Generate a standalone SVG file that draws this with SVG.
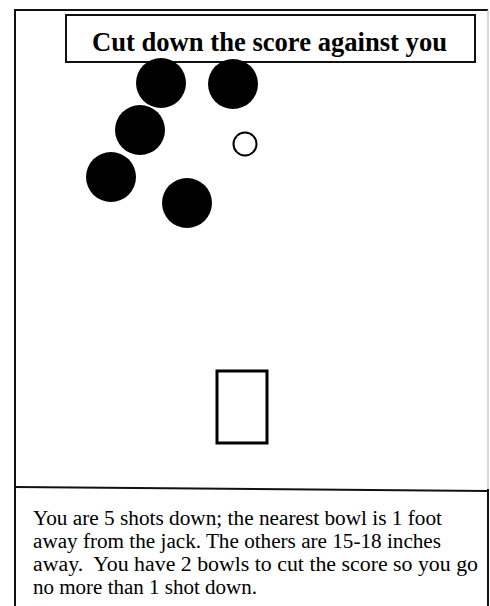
<svg xmlns="http://www.w3.org/2000/svg" width="490" height="606" viewBox="0 0 490 606">
<style>
.frame{fill:none;stroke:#111;stroke-width:2}
.bowl{fill:#000}
.title{font-family:"Liberation Serif",serif;font-weight:bold;font-size:26.5px;fill:#000}
.body{font-family:"Liberation Serif",serif;font-size:20.5px;fill:#000}
</style>
<rect width="490" height="606" fill="#fff"/>
<g id="frame">
<path class="frame" d="M15,606 V10 H488"/>
<path d="M488,10 V489" fill="none" stroke="#bbb" stroke-width="1.2"/>
<path class="frame" d="M488,489 V606"/>
<path class="frame" d="M15,487 L488,491"/>
</g>
<g id="title">
<rect x="66" y="15" width="409" height="47" fill="#fff" stroke="#111" stroke-width="2"/>
<text class="title" x="92" y="51" textLength="355" lengthAdjust="spacingAndGlyphs">Cut down the score against you</text>
</g>
<g id="bowl1"><circle class="bowl" cx="161" cy="83" r="25"/></g>
<g id="bowl2"><circle class="bowl" cx="233" cy="84" r="25"/></g>
<g id="bowl3"><circle class="bowl" cx="140" cy="130" r="25"/></g>
<g id="bowl4"><circle class="bowl" cx="111" cy="177" r="25"/></g>
<g id="bowl5"><circle class="bowl" cx="187" cy="203" r="25"/></g>
<g id="jack"><circle cx="245" cy="144" r="11.5" fill="#fff" stroke="#000" stroke-width="2"/></g>
<g id="mat"><rect x="217" y="371" width="50" height="72" fill="none" stroke="#000" stroke-width="3"/></g>
<g id="caption">
<text class="body" x="33" y="525" textLength="409" lengthAdjust="spacingAndGlyphs">You are 5 shots down; the nearest bowl is 1 foot</text>
<text class="body" x="33" y="548" textLength="408" lengthAdjust="spacingAndGlyphs">away from the jack. The others are 15-18 inches</text>
<text class="body" x="33" y="571" textLength="445" lengthAdjust="spacingAndGlyphs" xml:space="preserve">away.  You have 2 bowls to cut the score so you go</text>
<text class="body" x="33" y="594" textLength="224" lengthAdjust="spacingAndGlyphs">no more than 1 shot down.</text>
</g>
<g id="connectors"></g>
</svg>
